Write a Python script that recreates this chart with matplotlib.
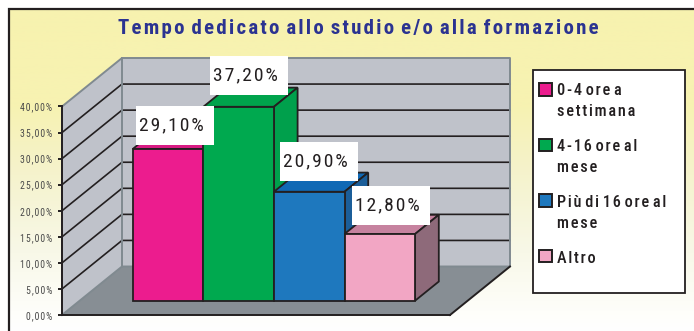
import numpy as np
import matplotlib as mpl
mpl.use('Agg') # headless!
import matplotlib.pyplot as plt
from matplotlib.patches import Polygon, Rectangle

plt.rcParams['font.family'] = ['Roboto Condensed', 'Liberation Sans', 'DejaVu Sans']

title = 'Tempo dedicato allo studio e/o alla formazione'
categories = ['0-4 ore a\nsettimana', '4-16 ore al\nmese', 'Più di 16 ore al\nmese', 'Altro']
values = [29.1, 37.2, 20.9, 12.8]
value_labels = ['29,10%', '37,20%', '20,90%', '12,80%']
yticks = [0, 5, 10, 15, 20, 25, 30, 35, 40]
ytick_labels = ['0,00%', '5,00%', '10,00%', '15,00%', '20,00%', '25,00%', '30,00%', '35,00%', '40,00%']

front_colors = ['#ec1c8e', '#00a94f', '#1e78be', '#f2a6c4']
top_colors = ['#d81b84', '#00a34c', '#1069b5', '#c6829f']
side_colors = ['#c4186f', '#00a04c', '#1b5e99', '#8e6a7a']

W, H = 694, 331
DARK = '#231f20'
WALL = '#bfc2ca'
FLOOR = '#878e94'
EDGE = '#808a90'

# one depth unit of the box in axis units (60 px across, 48.5 px up)
PX_X = 70.6
PX_Y = 5.2125
DX = 60 / PX_X
DY = 48.5 / PX_Y
X0 = -53 / PX_X
X1 = X0 + 388 / PX_X


def spaced(s):
    # wide tracking inside words, the font has no letter spacing option
    lines = []
    for line in s.split('\n'):
        lines.append(' '.join('\u200a'.join(word) for word in line.split(' ')))
    return '\n'.join(lines)


def pt(x, v, d):
    return (x + d * DX, v + d * DY)


fig = plt.figure(figsize=(W / 100, H / 100), dpi=100, facecolor='white')

# background panel with the yellow fade
bg = fig.add_axes([0, 0, 1, 1], zorder=0)
stops_y = [0, 100, 170, 250, 310, 331]
stops = np.array([[247, 242, 175], [247, 242, 178], [245, 243, 205],
                  [248, 248, 232], [254, 254, 250], [255, 255, 255]]) / 255
rows = np.arange(H)
grad = np.stack([np.interp(rows, stops_y, stops[:, i]) for i in range(3)], axis=1)[:, None, :]
bg.imshow(grad, extent=(9, W, H, 9), aspect='auto', zorder=1)
bg.set_xlim(0, W)
bg.set_ylim(H, 0)
bg.axis('off')
bg.plot([W, 9, 9], [9, 9, H], color=DARK, lw=1.6, zorder=2, solid_joinstyle='miter')
bg.text(358, 29, spaced(title).replace(' ', '\u200a '), color='#2b3391', fontsize=15, fontweight='bold',
        ha='center', va='center', zorder=3)

# legend frame with swatches and wrapped labels
bg.add_patch(Rectangle((533, 70), 152, 223, fc='white', ec=DARK, lw=1.3, zorder=3))
for i, cat in enumerate(categories):
    bg.add_patch(Rectangle((539, 83 + i * 55.5), 13, 12.5, fc=front_colors[i], ec=DARK, lw=1.4, zorder=4))
    bg.text(557, 83 + i * 56, spaced(cat), color=DARK, fontsize=11.7, fontweight='medium',
            ha='left', va='top', linespacing=1.5, zorder=4)

ax = fig.add_axes([62 / W, (H - 315) / H, 388 / W, 208.5 / H], zorder=2)
ax.patch.set_visible(False)
ax.set_xlim(X0, X1)
ax.set_ylim(0, 40)

# walls and floor
ax.add_patch(Polygon([pt(X0, 0, 0), pt(X0, 0, 1), pt(X1, 0, 1), pt(X1, 0, 0)],
                     fc=FLOOR, ec='none', zorder=1, clip_on=False))
ax.add_patch(Polygon([pt(X0, 0, 0), pt(X0, 0, 1), pt(X0, 40, 1), pt(X0, 40, 0)],
                     fc=WALL, ec='none', zorder=1, clip_on=False))
ax.add_patch(Polygon([pt(X0, 0, 1), pt(X1, 0, 1), pt(X1, 40, 1), pt(X0, 40, 1)],
                     fc=WALL, ec='none', zorder=1, clip_on=False))

# grid lines run along the side wall and then along the back wall
for t in yticks[1:-1]:
    a, b, c = pt(X0, t, 0), pt(X0, t, 1), pt(X1, t, 1)
    ax.plot([a[0], b[0], c[0]], [a[1], b[1], c[1]], color=DARK, lw=1.2, zorder=2, clip_on=False)

# wall outlines
outline = [pt(X0, 0, 0), pt(X0, 40, 0), pt(X0, 40, 1), pt(X1, 40, 1), pt(X1, 0, 1), pt(X0, 0, 1), pt(X0, 0, 0)]
ax.plot([p[0] for p in outline], [p[1] for p in outline], color=EDGE, lw=1.4, zorder=3, clip_on=False)
ax.plot([pt(X0, 40, 1)[0], pt(X0, 0, 1)[0]], [pt(X0, 40, 1)[1], pt(X0, 0, 1)[1]],
        color=EDGE, lw=1.4, zorder=3, clip_on=False)
a, b = pt(X1, 0, 0), pt(X1, 0, 1)
ax.plot([a[0], b[0]], [a[1], b[1]], color=DARK, lw=1.4, zorder=3, clip_on=False)

# bars stand in the middle of the floor
D_FRONT = 0.295
D_BACK = 0.69
positions = np.arange(len(values))
shift_x, shift_y = pt(0, 0, D_FRONT)
depth_x = (D_BACK - D_FRONT) * DX
depth_y = (D_BACK - D_FRONT) * DY

for i, v in enumerate(values):
    left = positions[i] + shift_x
    right = left + 1
    base = shift_y
    top = shift_y + v
    z = 4 + i
    ax.add_patch(Polygon([(left, top), (left + depth_x, top + depth_y),
                          (right + depth_x, top + depth_y), (right, top)],
                         fc=top_colors[i], ec=DARK, lw=1.3, zorder=z, clip_on=False))
    ax.add_patch(Polygon([(right, base), (right + depth_x, base + depth_y),
                          (right + depth_x, top + depth_y), (right, top)],
                         fc=side_colors[i], ec=DARK, lw=1.3, zorder=z, clip_on=False))
    ax.bar(left, v, width=1, bottom=base, align='edge', color=front_colors[i],
           edgecolor=DARK, linewidth=1.3, zorder=z, clip_on=False)

# value labels on white boxes above each bar, offsets in px from the bar's top left
box_w, box_h = 78 / PX_X, 39 / PX_Y
label_dx = [3, 7, 6.5, 7]
label_dy = [43, 51, 49.5, 48]
for i, v in enumerate(values):
    bx = positions[i] + shift_x + label_dx[i] / PX_X
    by = shift_y + v + label_dy[i] / PX_Y - box_h
    ax.add_patch(Rectangle((bx, by), box_w, box_h, fc='white', ec='none', zorder=20, clip_on=False))
    ax.text(bx + 3 / PX_X, by + box_h / 2, spaced(value_labels[i]), ha='left', va='center',
            fontsize=14, color=DARK, zorder=21, clip_on=False)

for name in ['top', 'right']:
    ax.spines[name].set_visible(False)
ax.spines['left'].set_color(DARK)
ax.spines['left'].set_linewidth(1.4)
ax.spines['bottom'].set_color(DARK)
ax.spines['bottom'].set_linewidth(1.4)
ax.spines['left'].set_zorder(3)
ax.spines['bottom'].set_zorder(3)
ax.set_xticks([])
ax.set_yticks(yticks)
ax.set_yticklabels([spaced(s) for s in ytick_labels], fontsize=7, color='#4a4a4a')
ax.tick_params(axis='y', length=3, width=1.4, color=DARK, pad=4)

fig.savefig('out.png', dpi=100)
